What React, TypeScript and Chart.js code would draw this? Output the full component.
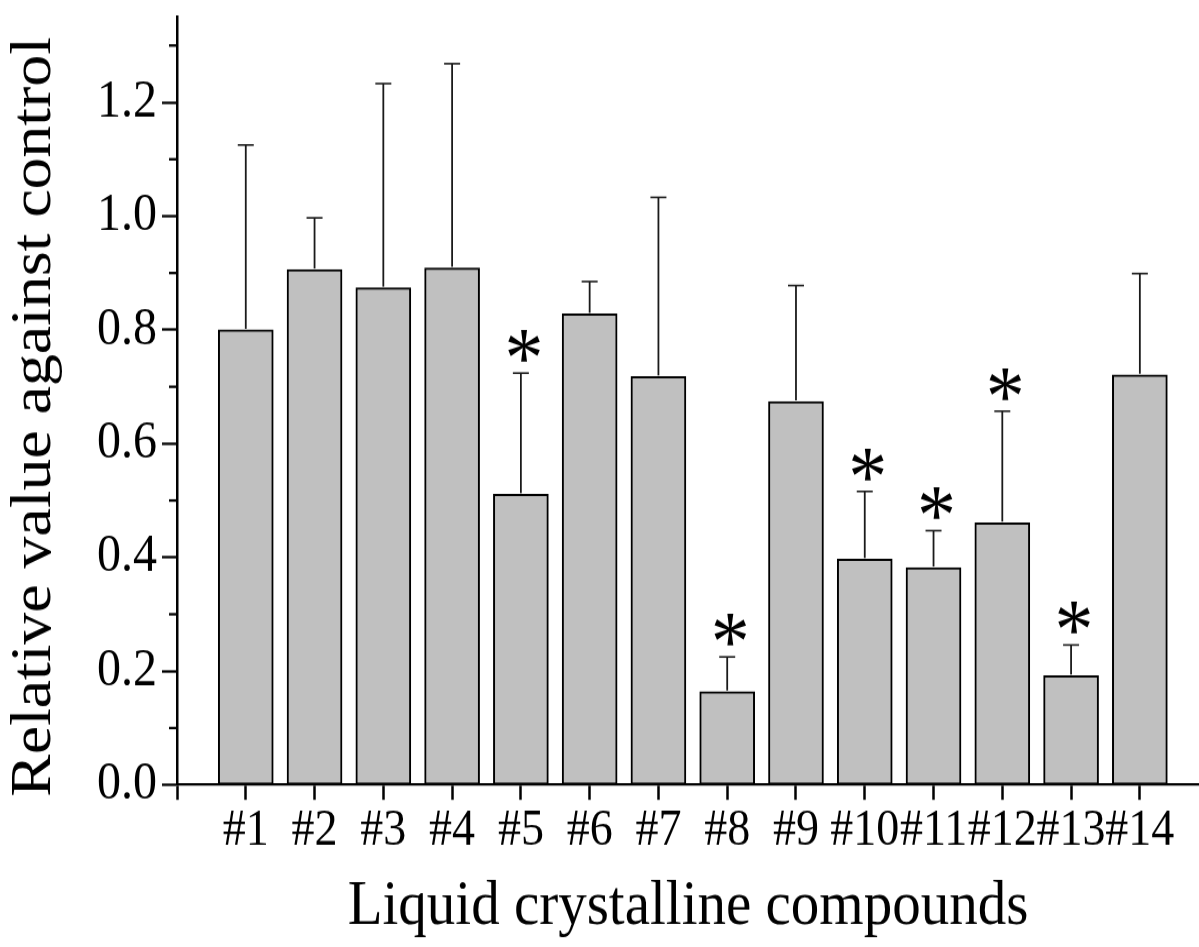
import React, { useEffect, useRef } from 'react';
import { Chart, registerables } from 'chart.js';

Chart.register(...registerables);

// ---- data ----
const categories = ['#1', '#2', '#3', '#4', '#5', '#6', '#7', '#8', '#9', '#10', '#11', '#12', '#13', '#14'];
const means = [0.80, 0.906, 0.874, 0.909, 0.511, 0.828, 0.718, 0.164, 0.674, 0.397, 0.382, 0.461, 0.192, 0.721];
const errors = [0.325, 0.091, 0.359, 0.359, 0.213, 0.057, 0.315, 0.061, 0.204, 0.119, 0.065, 0.196, 0.054, 0.178];
const significant = [false, false, false, false, true, false, false, true, false, true, true, true, true, false];
const yTicks = [0, 0.2, 0.4, 0.6, 0.8, 1.0, 1.2];
const yMinorTicks = [0.1, 0.3, 0.5, 0.7, 0.9, 1.1, 1.3];
const xTitle = 'Liquid crystalline compounds';
const yTitle = 'Relative value against control';

// ---- layout ----
const W = 1199;
const H = 947;
const SY = 1.1; // vertical stretch of the picture
const IH = Math.round(H / SY);
const FONT = '"Liberation Serif", "Times New Roman", serif';

const overlay = {
  id: 'overlay',
  afterDatasetsDraw(chart: any) {
    const { ctx, chartArea } = chart;
    const x = chart.scales.x;
    const y = chart.scales.y;
    ctx.save();
    // minor ticks on y axis
    ctx.strokeStyle = '#000';
    ctx.lineWidth = 2.3;
    yMinorTicks.forEach((v) => {
      const py = y.getPixelForValue(v);
      ctx.beginPath();
      ctx.moveTo(chartArea.left - 8, py);
      ctx.lineTo(chartArea.left, py);
      ctx.stroke();
    });
    // error bars
    ctx.strokeStyle = '#1a1a1a';
    means.forEach((m, i) => {
      const px = x.getPixelForValue(i + 1);
      const p0 = y.getPixelForValue(m);
      const p1 = y.getPixelForValue(m + errors[i]);
      ctx.lineWidth = 1.8;
      ctx.beginPath();
      ctx.moveTo(px, p0 - 1);
      ctx.lineTo(px, p1);
      ctx.stroke();
      ctx.lineWidth = 1.6;
      ctx.beginPath();
      ctx.moveTo(px - 8, p1);
      ctx.lineTo(px + 8, p1);
      ctx.stroke();
    });
    // significance asterisks
    ctx.fillStyle = '#000';
    ctx.font = `78px ${FONT}`;
    ctx.textAlign = 'center';
    ctx.textBaseline = 'alphabetic';
    const mt = ctx.measureText('*');
    const desc = mt.actualBoundingBoxDescent || 0;
    means.forEach((m, i) => {
      if (!significant[i]) return;
      const px = x.getPixelForValue(i + 1);
      const p1 = y.getPixelForValue(m + errors[i]);
      const bottom = p1 - 10;
      ctx.fillText('*', px + 3, bottom - desc);
    });
    ctx.restore();
  },
};

export default function App() {
  const ref = useRef<HTMLCanvasElement>(null);
  useEffect(() => {
    const canvas = ref.current;
    if (!canvas) return;
    const chart = new Chart(canvas, {
      type: 'bar',
      data: {
        datasets: [
          {
            data: means.map((m, i) => ({ x: i + 1, y: m })),
            backgroundColor: '#c0c0c0',
            borderColor: '#000',
            borderWidth: 2,
            borderSkipped: false,
            barThickness: 55,
          } as any,
        ],
      },
      options: {
        responsive: false,
        maintainAspectRatio: false,
        animation: false,
        devicePixelRatio: 1,
        layout: { padding: { top: 15.5, left: 0, right: 0, bottom: 0 } },
        plugins: { legend: { display: false }, tooltip: { enabled: false } },
        scales: {
          x: {
            type: 'linear',
            min: 0,
            max: 14.86,
            offset: false,
            afterBuildTicks: (s: any) => {
              s.ticks = [{ value: 0 }, ...categories.map((_, i) => ({ value: i + 1 }))];
            },
            afterFit: (s: any) => {
              s.height = IH - 713.6;
              s.paddingLeft = 0;
              s.paddingRight = 0;
            },
            grid: {
              offset: false,
              drawOnChartArea: false,
              drawTicks: true,
              tickLength: 13.6,
              tickWidth: 2.5,
              tickColor: '#000',
            },
            border: { display: true, color: '#000', width: 2.3 },
            ticks: {
              color: '#000',
              font: { family: FONT, size: 46 },
              padding: 1,
              maxRotation: 0,
              autoSkip: false,
              callback: (v: any) => (v >= 1 ? categories[Math.round(v) - 1] : ''),
            },
            title: {
              display: true,
              text: xTitle,
              color: '#000',
              font: { family: FONT, size: 57 },
              padding: { top: 0, bottom: 2 },
            },
          } as any,
          y: {
            min: 0,
            max: 1.35,
            afterBuildTicks: (s: any) => {
              s.ticks = yTicks.map((v) => ({ value: v }));
            },
            afterFit: (s: any) => {
              s.width = 177;
              s.paddingTop = 0;
              s.paddingBottom = 0;
            },
            grid: {
              drawOnChartArea: false,
              drawTicks: true,
              tickLength: 15,
              tickWidth: 2.3,
              tickColor: '#000',
            },
            border: { display: true, color: '#000', width: 2.5 },
            ticks: {
              color: '#000',
              font: { family: FONT, size: 48 },
              padding: 5,
              callback: (v: any) => Number(v).toFixed(1),
            },
            title: {
              display: true,
              text: yTitle + '  ',
              color: '#000',
              font: { family: FONT, size: 58 },
              padding: { top: 0, bottom: 0 },
            },
          } as any,
        },
      },
      plugins: [overlay],
    });
    return () => chart.destroy();
  }, []);

  return (
    <canvas
      ref={ref}
      width={W}
      height={IH}
      style={{ position: 'fixed', left: 0, top: 0, width: `${W}px`, height: `${H}px` }}
    />
  );
}
